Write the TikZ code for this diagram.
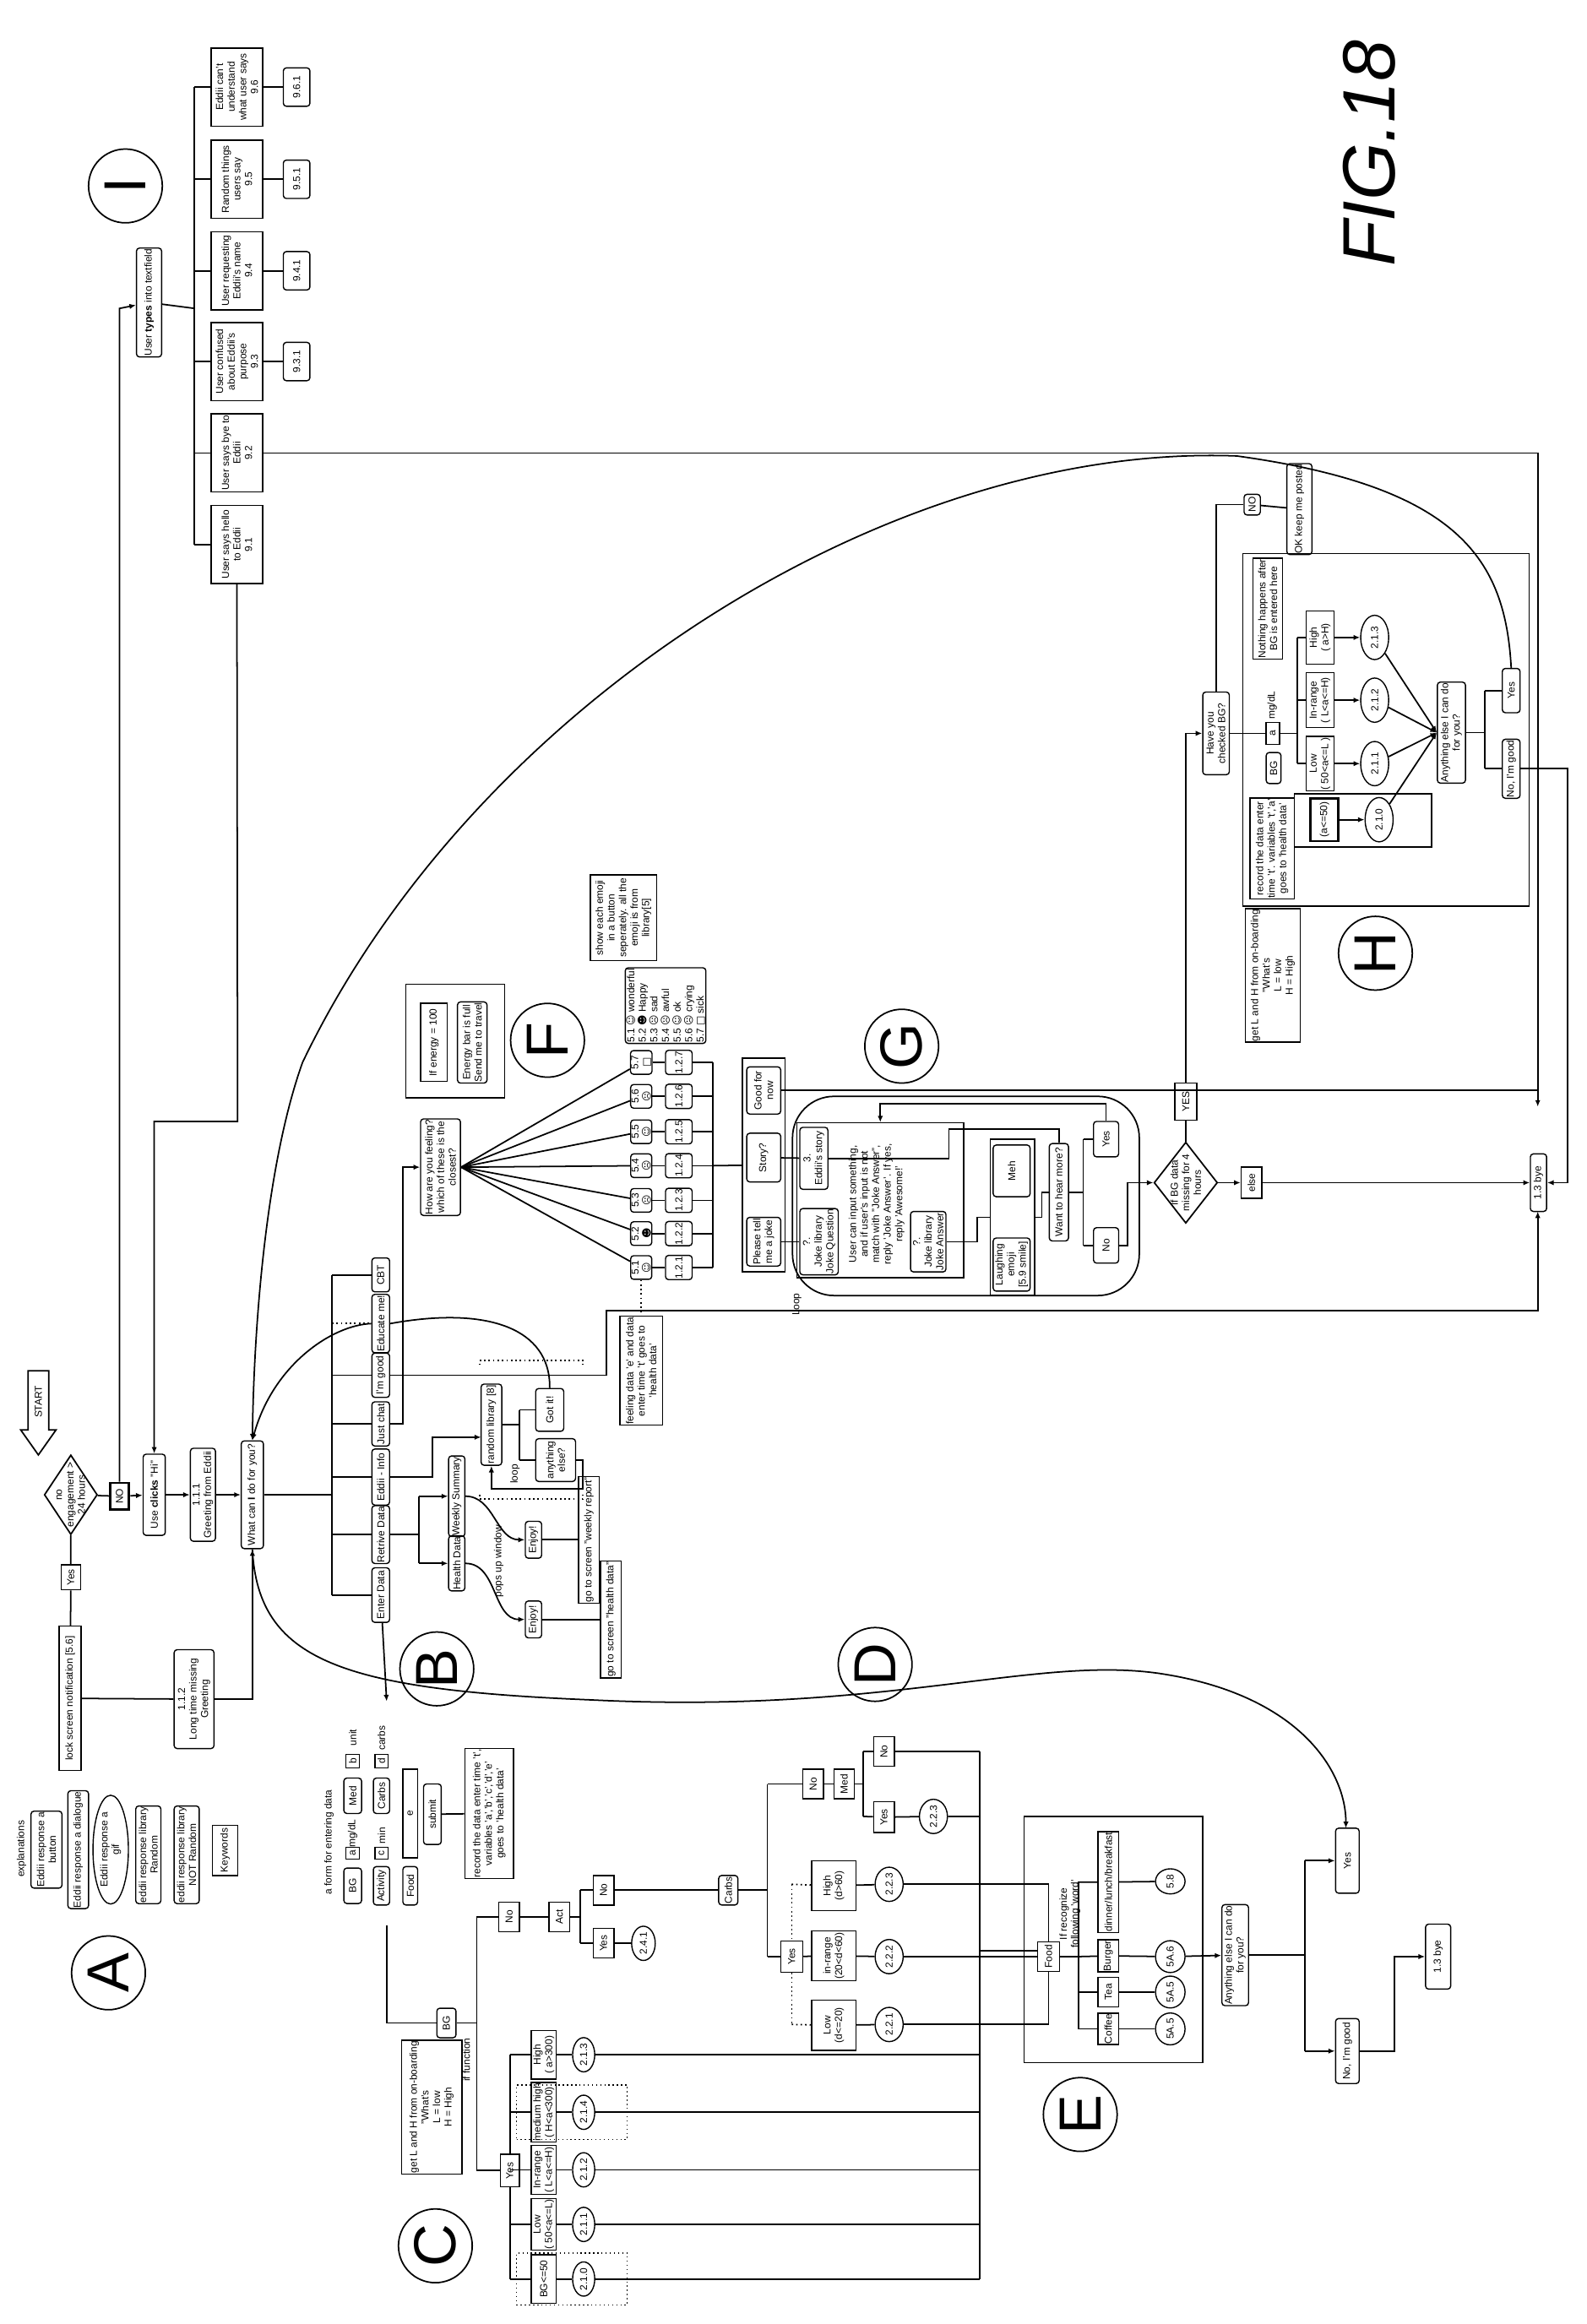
\documentclass[tikz,border=0pt]{standalone}
\usepackage{fontspec}
\setmainfont{Liberation Sans}
\newfontfamily\djv{DejaVu Sans}
\usetikzlibrary{arrows.meta,shapes.geometric,calc}
\newcommand\fsz{\fontsize{3.4}{3.9}\selectfont}
\def\uu{0.1748mm}
\tikzset{
 n/.style={draw, rotate=90, align=center, inner sep=0.3pt, font=\fsz, line width=0.4pt},
 sz/.style 2 args={minimum height=#1*\uu, minimum width=#2*\uu},
 rb/.style={n, rounded corners=1pt},
 rc/.style={n},
 el/.style={n, ellipse},
 fr/.style 2 args={draw, minimum width=#1*\uu, minimum height=#2*\uu, inner sep=0, line width=0.4pt},
 lab/.style={circle, draw, rotate=90, font=\fontsize{20}{20}\selectfont, minimum size=50*\uu, inner sep=0},
 txt/.style={rotate=90, align=center, font=\fsz, inner sep=0},
 ar/.style={-{Latex[length=2.2pt,width=1.8pt]}}
}
\begin{document}
\begin{tikzpicture}[x=0.1748mm,y=-0.1748mm,line width=0.5pt]
\useasboundingbox (0,0) rectangle (1075,1575);

% ---------- FIG label
\node[rotate=90, font=\fontsize{25}{25}\selectfont\itshape, inner sep=0] (fig) at (928,104) {FIG.18};

% ---------- top: user types
\node[lab] (cI) at (85,126) {I};
\node[rb,sz={17}{73}] (utype) at (101,205) {User \textbf{types} into textfield};
\node[rc,sz={35}{53}] (b96) at (160.5,59) {Eddii can't\\understand\\what user says\\9.6};
\node[rc,sz={35}{53}] (b95) at (160.5,121.5) {Random things\\users say\\9.5};
\node[rc,sz={35}{53}] (b94) at (160.5,183.5) {User requesting\\Eddii's name\\9.4};
\node[rc,sz={35}{53}] (b93) at (160.5,245) {User confused\\about Eddii's\\purpose\\9.3};
\node[rc,sz={35}{53}] (b92) at (160.5,307) {User says bye to\\Eddii\\9.2};
\node[rc,sz={35}{53}] (b91) at (160.5,369) {User says hello\\to Eddii\\9.1};
\node[rb,sz={18}{26}] (p96) at (201,59) {9.6.1};
\node[rb,sz={18}{26}] (p95) at (201,121.5) {9.5.1};
\node[rb,sz={18}{26}] (p94) at (201,183.5) {9.4.1};
\node[rb,sz={18}{26}] (p93) at (201,245) {9.3.1};
\coordinate (t96) at (131.8,59); \coordinate (t91) at (131.8,369);
\coordinate (tin) at (131.8,209);
\draw (t96) -- (t91);
\foreach \b in {96,95,94,93,92,91} \draw (b\b) -- (131.8,0 |- b\b);
\foreach \b in {96,95,94,93} \draw (b\b) -- (p\b);
\draw (utype) -- (tin);

% ---------- start / main chain
\draw (19,929) -- (33,929) -- (33,969) -- (38,969) -- (26,986) -- (14,969) -- (19,969) -- cycle;
\node[txt] (start) at (26,950) {START};
\node[draw, diamond, rotate=90, minimum width=54*\uu, minimum height=36*\uu, inner sep=0] (dne) at (48,1013) {};
\node[txt] at (48,1013) {no\\engagement >\\24 hours};
\node[rc,sz={13}{17}] (yes1) at (48,1069) {Yes};
\node[rc,sz={15}{98}] (lock) at (47.5,1151) {lock screen notification [5.6]};
\node[rc,sz={13}{18},line width=0.8pt] (no1) at (81,1014) {NO};
\node[rb,sz={15}{55}] (useclk) at (104.5,1013) {Use \textbf{clicks} "Hi"};
\node[rb,sz={17}{63}] (greet) at (137.5,1013) {1.1.1\\Greeting from Eddii};
\node[rb,sz={15}{73}] (what) at (171,1013) {What can \textbf{I} do for you?};
\node[rb,sz={27}{67}] (g112) at (131.5,1151.5) {1.1.2\\Long time missing\\Greeting};
\draw (dne) -- (yes1) -- (lock);
\draw (lock) -- (g112);
\draw[ar] (g112) -- (171,1151.5) -- (what);
\draw (dne) -- (no1);
\draw[ar] (no1) -- (useclk);
\draw[ar] (useclk) -- (greet);
\draw[ar] (greet) -- (what);
\draw[ar] (no1) -- (81,209) -- (utype);
\draw[ar] (b91) -- (161,760) -- (104.5,760) -- (useclk);
\draw[ar] (b92) -- (1042,307) -- (1042,750);

% ---------- main buttons
\node[rb,sz={12}{23}] (cbt) at (258,864) {CBT};
\node[rb,sz={12}{36}] (edu) at (258,897) {Educate me!};
\node[rb,sz={12}{30}] (good) at (258,932) {I'm good};
\node[rb,sz={12}{30}] (chat) at (258,965) {Just chat};
\node[rb,sz={12}{38}] (info) at (258,1001) {Eddii - Info};
\node[rb,sz={12}{36}] (retr) at (258,1040) {Retrive Data};
\node[rb,sz={12}{37}] (enter) at (258,1081) {Enter Data};
\draw (what) -- (225,1013);
\draw (225,864) -- (225,1081);
\foreach \b in {cbt,good,chat,info,retr,enter} \draw (225,0 |- \b) -- (\b);
\draw[densely dotted] (225,897) -- (edu);

% ---------- feeling
\node[rb,sz={27}{64}] (feel) at (298.5,791) {How are you feeling?\\which of these is the\\closest?};
\draw[ar] (chat) -- (273,965) -- (273,791) -- (feel);
\foreach \i/\y/\e in {1/859/{\djv ☺},2/836/{\djv ☻},3/813.5/{\djv ☹},4/790/{\djv ☹},5/767/{\djv ☺},6/743/{\djv ☹},7/720/{\djv □}}{
  \node[rb,sz={13}{16}] (e\i) at (434.5,\y) {5.\i\\\e};
  \node[rb,sz={18}{16}] (q\i) at (460,\y) {1.2.\i};
  \draw (feel.south) -- (e\i);
  \draw (e\i) -- (q\i);
  \draw (q\i) -- (483,\y);
}
\draw (483,720) -- (483,859);
\node[rb,sz={54}{47},align=left] (elg) at (451,681.5) {5.1 {\djv ☺} wonderful\\5.2 {\djv ☻} Happy\\5.3 {\djv ☹} sad\\5.4 {\djv ☹} awful\\5.5 {\djv ☺} ok\\5.6 {\djv ☹} crying\\5.7 {\djv □} sick};
\node[rc,sz={45}{58}] (showe) at (422.5,622) {show each emoji\\in a button\\seperately. all the\\emoji is from\\library{}[5]};
\node[rc,sz={29}{72}] (fdata) at (434.5,929) {feeling data 'e' and data\\enter time 't' goes to\\'health data'};
\draw[densely dotted] (e1) -- (fdata);
% F
\node[fr={67}{77}] (fbox) at (308.5,705.5) {};
\node[rc,sz={18}{53}] (energy) at (294,706.5) {If energy = 100};
\node[rb,sz={20}{55}] (ebar) at (320,706.5) {Energy bar is full\\Send me to travel};
\node[lab] (cF) at (371,705) {F};

\draw[ar] (good) -- (411,932) -- (411,888) -- (1042,888) -- (1042,821);

% ---------- G
\node[fr={29}{145}] (gopt) at (517.5,789.5) {};
\node[rb,sz={23}{32}] (gfn) at (517.5,739) {Good for\\now};
\node[rb,sz={23}{33}] (story) at (517.5,784.5) {Story?};
\node[rb,sz={23}{33}] (joke) at (517.5,841.5) {Please tell\\me a joke};
\draw (483,790) -- (gopt);
\node[draw, rounded corners=14pt, minimum width=235*\uu, minimum height=135*\uu, inner sep=0] (gloop) at (654.5,810.5) {};
\node[fr={113}{105}] (ginner) at (596.5,813.5) {};
\node[rb,sz={19}{42}] (estory) at (551.5,785) {3.\\Eddii's story};
\node[rb,sz={26}{41}] (jq) at (555,841.5) {?.\\Joke library\\Joke Question};
\node[txt] (jtxt) at (594,816) {User can input something,\\and if user's input is not\\match with "Joke Answer",\\reply 'Joke Answer'. If yes,\\reply 'Awesome!'};
\node[rb,sz={24}{41}] (ja) at (629,841.5) {?.\\Joke library\\Joke Answer};
\node[fr={30}{106}] (mehbox) at (686,825) {};
\node[rb,sz={25}{35}] (meh) at (685.5,793.5) {Meh};
\node[rb,sz={25}{36}] (laugh) at (685.5,857) {Laughing\\emoji\\{}[5.9 smile]};
\node[rb,sz={13}{66}] (want) at (717.5,808) {Want to hear more?};
\node[rb,sz={17}{24}] (gyes) at (749.5,772) {Yes};
\node[rb,sz={17}{24}] (gno) at (749.5,844) {No};
\draw (story) -- (estory);
\draw (joke) -- (jq);
\draw (estory) -- (643,785) -- (643,765) -- (717.5,765) -- (want);
\draw (ja) -- (662,841.5) -- (662,825) -- (mehbox);
\draw (mehbox) -- (706,825) -- (706,808) -- (want);
\draw (want) -- (734,808);
\draw (734,772) -- (734,844);
\draw (734,772) -- (gyes); \draw (734,844) -- (gno);
\draw[ar] (gyes) -- (749.5,748) -- (596.5,748) -- (ginner);
\node[txt] at (540,884) {Loop};
\node[lab] (cG) at (611,709) {G};
\draw (gfn) -- (1042,739);

% ---------- BG missing / H
\node[draw, diamond, rotate=90, minimum width=55*\uu, minimum height=43*\uu, inner sep=0] (dbg) at (803.5,801.5) {};
\node[txt] at (803.5,801.5) {If BG data\\missing for 4\\hours};
\node[rc,sz={14}{21}] (else) at (848,801.5) {else};
\node[rc,sz={15}{25}] (yesb) at (803.5,746.5) {YES};
\node[rb,sz={11}{39}] (bye) at (1042.5,801.5) {1.3 bye};
\draw[ar] (gno) -- (764,844) -- (764,801.5) -- (dbg);
\draw[ar] (dbg) -- (else);
\draw[ar] (else) -- (bye);
\draw (dbg) -- (yesb);
\node[rb,sz={18}{56}] (hvc) at (824,497) {Have you\\checked BG?};
\draw[ar] (yesb) -- (803.5,497) -- (hvc);
\node[rb,sz={11}{14}] (noh) at (848.5,342) {NO};
\node[rb,sz={17}{54}] (okp) at (880.5,345) {OK keep me posted};
\draw (hvc) -- (824,342) -- (noh);
\draw (noh) -- (okp);
\node[fr={194}{239}] (hbox) at (939,494.5) {};
\node[rc,sz={20}{65}] (noth) at (859,412.5) {Nothing happens after\\BG is entered here};
\node[rc,sz={9}{15}] (ha) at (862.5,497) {a};
\node[txt] at (862,478) {mg/dL};
\node[rb,sz={10}{21}] (hbg) at (863,520.5) {BG};
\draw (hvc) -- (ha);
\draw (ha) -- (879,497);
\draw (879,432) -- (879,517.5);
\node[rc,sz={19}{36}] (hhigh) at (894.5,432) {High\\( a>H)};
\node[rc,sz={19}{37}] (hin) at (894.5,474.5) {In-range\\( L<a<=H)};
\node[rc,sz={19}{37}] (hlow) at (894.5,517.5) {Low\\( 50<a<=L )};
\node[el,sz={19}{30}] (h213) at (931.5,432) {2.1.3};
\node[el,sz={19}{30}] (h212) at (931.5,474.5) {2.1.2};
\node[el,sz={19}{30}] (h211) at (931.5,517.5) {2.1.1};
\node[el,sz={19}{30}] (h210) at (934.5,555.5) {2.1.0};
\node[fr={93}{36}] (h50box) at (923.5,556) {};
\node[rc,sz={19}{29},line width=0.8pt] (ha50) at (897.5,555.5) {(a<=50)};
\node[rc,sz={30}{68}] (hrec) at (862,575) {record the data enter\\time 't'. variables 't','a'\\goes to 'health data'};
\foreach \a/\b in {hhigh/h213,hin/h212,hlow/h211,ha50/h210} \draw[ar] (\a) -- (\b);
\foreach \a in {high,in,low} \draw (879,0 |- h\a) -- (h\a);
\node[rb,sz={19}{63}] (hany) at (983.5,496.5) {Anything else I can do\\for you?};
\foreach \b in {h213,h212,h211,h210} \draw[ar] (\b) -- (hany.north);
\node[rb,sz={12}{30}] (hyes) at (1024,468) {Yes};
\node[rb,sz={12}{40}] (hno) at (1024,521) {No, I'm good};
\draw (hany) -- (1006,496.5);
\draw (1006,468) -- (1006,521);
\draw (1006,468) -- (hyes); \draw (1006,521) -- (hno);
\draw[ar] (hno) -- (1062,521) -- (1062,801.5) -- (bye);
\node[rc,sz={37}{86}] (hlh) at (862.5,661) {get L and H from on-boarding\\"What's\\L = low\\H = High};
\node[lab] (cH) at (932,646) {H};
\draw[ar] (hyes.east) .. controls (1020,380) and (990,330) .. (838,309) .. controls (600,300) and (320,480) .. (205,720) .. controls (180,790) and (172,900) .. (what.east);

% ---------- educate / info / retrieve
\node[rb,sz={14}{55}] (rlib) at (333,965.5) {random library [8]};
\node[rb,sz={19}{29}] (gotit) at (372.5,955.5) {Got it!};
\node[rb,sz={27}{29}] (anyel) at (376.5,989.5) {anything\\else?};
\draw[ar] (info) -- (293,1001) -- (293,974) -- (326,974);
\draw (rlib) -- (352,965.5);
\draw (352,955.5) -- (352,989.5);
\draw (352,955.5) -- (gotit); \draw (352,989.5) -- (anyel);
\draw[ar] (anyel) -- (395,989.5) -- (395,1009) -- (333,1009) -- (rlib);
\node[txt] at (349,999) {loop};
\draw[densely dotted] (325,925) -- (325,922) -- (395,922) -- (395,925);
\draw[densely dotted] (325,1013) -- (325,1016) -- (395,1016) -- (395,1013);
\draw (gotit.east) .. controls (373,900) and (330,885) .. (edu.south);
\draw[ar] (edu.north) .. controls (225,898) and (185,925) .. (what.east);
\node[rb,sz={11}{48}] (weekly) at (309.5,1014) {Weekly Summary};
\node[rb,sz={11}{35}] (health) at (309.5,1059.5) {Health Data};
\node[rb,sz={11}{25}] (enj1) at (361.5,1043.5) {Enjoy!};
\node[rb,sz={11}{25}] (enj2) at (361.5,1097.5) {Enjoy!};
\node[rc,sz={14}{79}] (scr1) at (399,1043.5) {go to screen "weekly report"};
\node[rc,sz={14}{79}] (scr2) at (414,1097.5) {go to screen "health data"};
\draw (retr) -- (284,1040);
\draw (284,1014) -- (284,1059.5);
\draw[ar] (284,1014) -- (weekly); \draw[ar] (284,1059.5) -- (health);
\draw[ar] (weekly.south) to[out=0,in=180] (enj1.north);
\draw[ar] (health.south) to[out=0,in=180] (enj2.north);
\draw (enj1) -- (scr1); \draw (enj2) -- (scr2);
\node[txt] at (338,1058) {pops up window};
\coordinate (formtop) at (262,1153);
\draw[ar] (enter) -- (formtop);
\node[lab] (cB) at (296,1131) {B};
\draw[ar] (what.west) .. controls (175,1125) and (230,1145) .. (400,1152) .. controls (600,1162) and (700,1122) .. (785,1134) .. controls (880,1148) and (912,1200) .. (912,1239);
\node[lab] (cD) at (593,1128) {D};

% ---------- legend
\node[lab] (cA) at (73.5,1337) {A};
\node[txt] at (14.6,1253) {explanations};
\node[rb,sz={21}{51}] (lbtn) at (31.5,1253.5) {Eddii response a\\button};
\node[rb,sz={14}{75}] (ldlg) at (53,1253.5) {Eddii response a dialogue};
\node[el,sz={24}{55}] (lgif) at (75,1253.5) {Eddii response a\\gif};
\node[rb,sz={17}{66}] (lrand) at (100.5,1257) {eddii response library\\Random};
\node[rb,sz={17}{66}] (lnot) at (126.5,1257) {eddii response library\\NOT Random};
\node[rc,sz={17}{34}] (lkey) at (152.5,1254) {Keywords};

% ---------- form
\node[txt] at (223,1248.5) {a form for entering data};
\node[rb,sz={12}{24}] (fbg) at (239,1278) {BG};
\node[rc,sz={9}{8}] (fa) at (239,1256) {a};
\node[txt] at (239,1242.5) {mg/dL};
\node[rb,sz={12}{24}] (fmed) at (239,1217) {Med};
\node[rc,sz={9}{9}] (fb) at (239,1193.5) {b};
\node[txt] at (239,1177.5) {unit};
\node[rb,sz={11}{26}] (fact) at (258.5,1278) {Activity};
\node[rc,sz={9}{8}] (fc) at (258.5,1256) {c};
\node[txt] at (258.5,1244) {min};
\node[rb,sz={11}{24}] (fcarb) at (258.5,1217) {Carbs};
\node[rc,sz={9}{9}] (fd) at (258.5,1193.5) {d};
\node[txt] at (258.5,1178) {carbs};
\node[rb,sz={10}{26}] (ffood) at (278,1278) {Food};
\node[rc,sz={10}{60}] (fe) at (278,1229) {e};
\node[rb,sz={12}{41}] (fsub) at (293,1229.5) {submit};
\node[rc,sz={33}{84}] (frec) at (331.5,1229) {record the data enter time 't',\\variables 'a','b','c','d','e'\\goes to 'health data'};
\draw (fsub) -- (frec);

% ---------- C: BG branch
\coordinate (fl) at (262,1305);
\node[rb,sz={13}{20}] (bg2) at (302.5,1371) {BG};
\draw (fl) -- (262,1371) -- (bg2);
\draw (bg2) -- (323,1371);
\draw (323,1299) -- (323,1471);
\node[txt] at (316,1396) {if function};
\node[rc,sz={14}{20}] (fno) at (345,1299) {No};
\node[rc,sz={14}{20}] (fact2) at (379,1299) {Act};
\node[rc,sz={14}{20}] (actno) at (409,1281) {No};
\node[rc,sz={14}{20}] (actyes) at (409,1317) {Yes};
\node[el,sz={16}{17}] (c241) at (436,1317) {2.4.1};
\draw (323,1299) -- (fno) -- (fact2) -- (393,1299);
\draw (393,1281) -- (393,1317);
\draw (393,1281) -- (actno); \draw (393,1317) -- (actyes) -- (c241);
\node[rc,sz={13}{22}] (cyes) at (345.5,1471) {Yes};
\draw (323,1471) -- (cyes);
\draw (345.5,1392.5) -- (cyes) -- (345.5,1544.5);
\node[fr={75}{37},densely dotted] (dm1) at (387.5,1431.5) {};
\node[fr={75}{35},densely dotted] (dm2) at (387.5,1544.5) {};
\foreach \nm/\y/\t/\c in {bh/1392.5/{High\\( a>300)}/2.1.3, bm/1431.5/{medium high\\( H<a<300)}/2.1.4, bi/1470.5/{In-range\\( L<a<=H)}/2.1.2, bl/1507.5/{Low\\( 50<a<=L)}/2.1.1, bz/1544.5/{BG<=50}/2.1.0}{
  \node[rc,sz={17}{33}] (\nm) at (368.5,\y) {\t};
  \node[el,sz={15}{16}] (c\nm) at (395.5,\y) {\c};
  \draw (345.5,\y) -- (\nm) -- (c\nm) -- (664,\y);
}
\draw (664,1187) -- (664,1544.5);
\node[rc,sz={41}{84}] (getlh) at (292.5,1428) {get L and H from on-boarding\\"What's\\L = low\\H = High};
\node[lab] (cC) at (295,1522) {C};

% ---------- carbs / med
\node[rb,sz={13}{20}] (carbs2) at (493.5,1281) {Carbs};
\draw (actno) -- (carbs2);
\draw (carbs2) -- (520,1281);
\draw (520,1209) -- (520,1326);
\node[rc,sz={14}{20}] (cno) at (551,1209) {No};
\node[rc,sz={14}{20}] (cmed) at (572,1209) {Med};
\draw (520,1209) -- (cno) -- (cmed) -- (585,1209);
\draw (585,1187) -- (585,1231);
\node[rc,sz={14}{20}] (mno) at (599,1187) {No};
\node[rc,sz={14}{21}] (myes) at (599,1231.5) {Yes};
\node[el,sz={19}{20}] (m223) at (632.5,1231) {2.2.3};
\draw (585,1187) -- (mno) -- (664,1187);
\draw (585,1231) -- (myes) -- (m223) -- (664,1231);
\node[rc,sz={15}{21}] (cyes2) at (536.5,1326) {Yes};
\draw (520,1326) -- (cyes2);
\draw[densely dotted] (536.5,1277) -- (cyes2) -- (536.5,1372);
\node[rc,sz={30}{34}] (dh) at (565,1278) {High\\(d>60)};
\node[rc,sz={30}{34}] (di) at (565,1325.5) {in-range\\(20<d<60)};
\node[rc,sz={30}{34}] (dl) at (565,1372.5) {Low\\(d<=20)};
\node[el,sz={19}{20}] (d223) at (602.5,1277) {2.2.3};
\node[el,sz={19}{20}] (d222) at (602.5,1326) {2.2.2};
\node[el,sz={19}{20}] (d221) at (602.5,1372) {2.2.1};
\draw[densely dotted] (536.5,1277) -- (dh); \draw[densely dotted] (536.5,1372) -- (dl);
\draw (cyes2) -- (di);
\draw (dh) -- (d223); \draw (di) -- (d222); \draw (dl) -- (d221);

% ---------- E
\node[fr={121}{167}] (ebox) at (754.5,1314.5) {};
\node[rc,sz={15}{20}] (efood) at (710.5,1326) {Food};
\draw (d223) -- (710.5,1277) -- (efood);
\draw (d221) -- (710.5,1372) -- (efood);
\draw (d222) -- (efood);
\draw (664,1322) -- (703,1322);
\node[txt] at (725,1297) {If recognize\\following 'word'};
\draw (efood) -- (731,1326);
\draw (731,1275) -- (731,1375);
\node[rc,sz={14}{67}] (dlb) at (751,1275.5) {dinner/lunch/breakfast};
\node[rc,sz={14}{21}] (burg) at (751,1325.5) {Burger};
\node[rc,sz={14}{20}] (tea) at (751,1350) {Tea};
\node[rc,sz={14}{20}] (cof) at (751,1375) {Coffee};
\node[el,sz={20}{17}] (c58) at (793,1275) {5.8};
\node[el,sz={20}{17}] (c5a6) at (793,1326) {5A.6};
\node[el,sz={20}{17}] (c5a5) at (793,1350) {5A.5};
\node[el,sz={20}{17}] (c5a5b) at (793,1375) {5A.5};
\draw (731,1275.5) -- (dlb) -- (c58);
\draw (731,1326) -- (burg) -- (c5a6);
\draw (731,1350) -- (tea) -- (c5a5);
\draw (731,1375) -- (cof) -- (c5a5b);
\node[rb,sz={18}{68}] (eany) at (837,1325) {Anything else I can do\\for you?};
\draw[ar] (c5a6) -- (eany);
\node[rb,sz={16}{44}] (eyes) at (913,1261) {Yes};
\node[rb,sz={16}{44}] (eno) at (913,1390) {No, I'm good};
\node[rb,sz={17}{44}] (ebye) at (974.5,1326) {1.3 bye};
\draw (eany) -- (884,1325);
\draw (884,1261) -- (884,1390);
\draw[ar] (884,1261) -- (eyes);
\draw[ar] (884,1390) -- (eno);
\draw[ar] (eno) -- (945,1390) -- (945,1326) -- (ebye);
\node[lab] (cE) at (732,1433) {E};
\end{tikzpicture}
\end{document}
